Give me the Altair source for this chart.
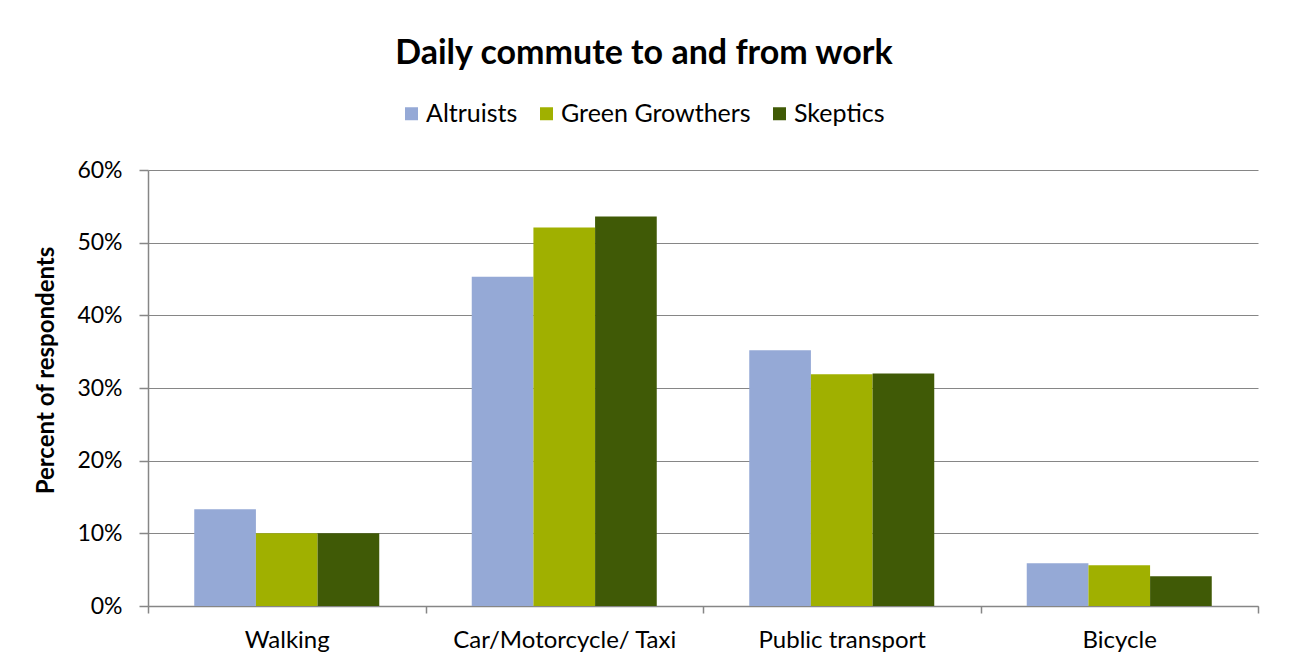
import altair as alt
import pandas as pd

categories = ["Walking", "Car/Motorcycle/ Taxi", "Public transport", "Bicycle"]
series = ["Altruists", "Green Growthers", "Skeptics"]
altruists = [13.3, 45.3, 35.2, 5.9]
green_growthers = [10.0, 52.1, 31.9, 5.6]
skeptics = [10.0, 53.6, 32.0, 4.1]
colors = ["#95A9D6", "#A0B000", "#405A06"]
y_ticks = [0, 10, 20, 30, 40, 50, 60]

rows = []
for s, vals in zip(series, [altruists, green_growthers, skeptics]):
    for c, v in zip(categories, vals):
        rows.append({"category": c, "group": s, "value": v})
df = pd.DataFrame(rows)

FONT = "Lato"
GREY = "#868686"

chart = alt.Chart(df).mark_bar().encode(
    x=alt.X(
        "category:N",
        sort=categories,
        scale=alt.Scale(paddingInner=0, paddingOuter=0),
        axis=alt.Axis(
            title=None, labelAngle=0, tickBand="extent", ticks=True, tickSize=7,
            domainColor=GREY, domainWidth=1.5, tickColor=GREY, tickWidth=1.5,
            labelFontSize=24, labelPadding=15, grid=False, labelColor="black",
            labelFont=FONT, labelLimit=400,
        ),
    ),
    xOffset=alt.XOffset("group:N", sort=series,
                        scale=alt.Scale(paddingOuter=0.75, paddingInner=0)),
    y=alt.Y(
        "value:Q",
        scale=alt.Scale(domain=[0, 60]),
        axis=alt.Axis(
            values=y_ticks, labelExpr="datum.value + '%'",
            title="Percent of respondents", titleFont=FONT, titleFontSize=24,
            titleFontWeight="bold", titleColor="black", titleAngle=-90,
            titleX=-102, titleY=200, titleAlign="center", titleBaseline="middle",
            labelFont=FONT, labelFontSize=23, labelColor="black", labelPadding=17,
            tickSize=9, tickColor=GREY, tickWidth=1.5, domainColor=GREY,
            domainWidth=1.5, grid=True, gridColor=GREY, gridWidth=1,
        ),
    ),
    color=alt.Color(
        "group:N", sort=series,
        scale=alt.Scale(domain=series, range=colors),
        legend=alt.Legend(
            title=None, orient="none", legendX=251, legendY=-69,
            direction="horizontal", symbolType="square", symbolSize=169,
            symbolStrokeWidth=0, labelFont=FONT, labelFontSize=25,
            labelColor="black", columnPadding=16, labelOffset=2, labelLimit=400,
        ),
    ),
).properties(
    width=1110,
    height=436,
    title=alt.Title("Daily commute to and from work", font=FONT, fontSize=34,
                    fontWeight="bold", color="black", anchor="middle", offset=30,
                    dx=-59),
    autosize=alt.AutoSizeParams(type="none"),
    padding={"left": 140, "top": 162, "right": 23, "bottom": 54},
).configure_view(stroke=None)

chart.save("out.html", embed_options={"renderer": "svg", "actions": False})
